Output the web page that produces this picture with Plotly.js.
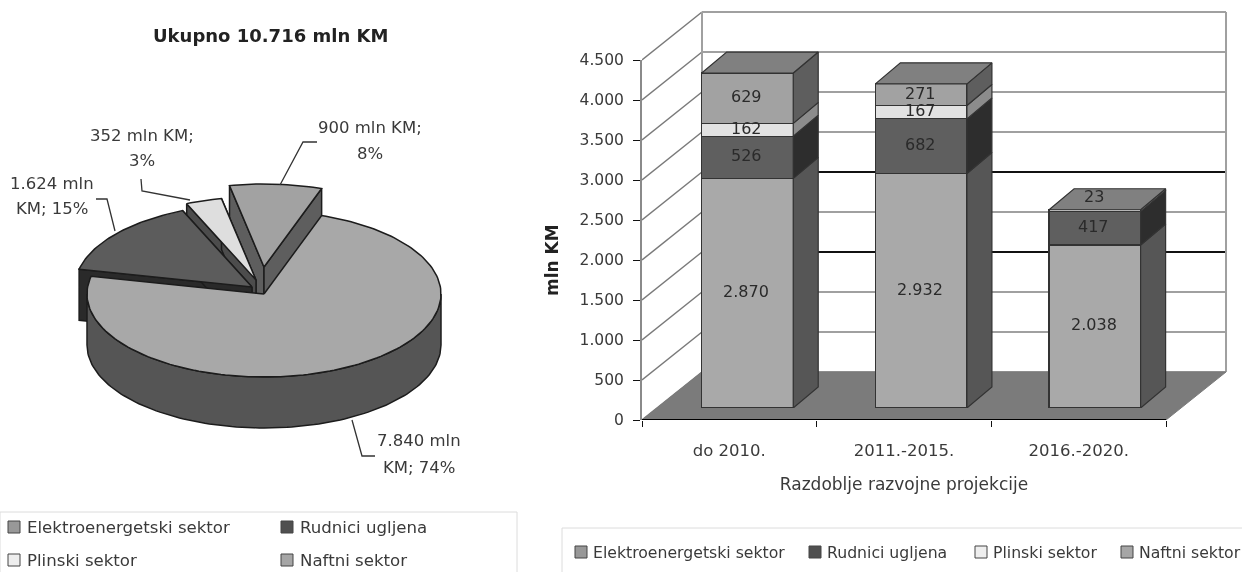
<!DOCTYPE html>
<html><head><meta charset="utf-8">
<script src="https://cdn.plot.ly/plotly-3.0.1.min.js"></script>
<style>html,body{margin:0;padding:0;background:#fff}#c{width:1242px;height:572px;filter:blur(0.7px)}</style>
</head><body><div id="c"></div>
<script>
// ---------- data ----------
const sectors = ["Elektroenergetski sektor","Rudnici ugljena","Plinski sektor","Naftni sektor"];
const periods = ["do 2010.","2011.-2015.","2016.-2020."];
const elektro = [2870,2932,2038];
const rudnici = [526,682,417];
const plin    = [162,167,23];
const naftni  = [629,271,0];
const pieTotals = [7840,1624,352,900];
const pieLabelLines = [["7.840 mln","KM; 74%"],["1.624 mln","KM; 15%"],["352 mln KM;","3%"],["900 mln KM;","8%"]];
const yTicks = [0,500,1000,1500,2000,2500,3000,3500,4000,4500];
const chartTitle = "Ukupno 10.716 mln KM";

// ---------- styles / geometry ----------
const W=1242,H=572;
const FONT='"DejaVu Sans", sans-serif', TXT='#3a3a3a';
const front=['#a9a9a9','#5f5f5f','#e2e2e2','#a2a2a2'];
const side =['#565656','#2d2d2d','#8c8c8c','#5e5e5e'];
const swatch=['#989898','#505050','#eeeeee','#a6a6a6'];
const stacks=[elektro,rudnici,plin,naftni];
const pxX=x=>x/W, pxY=y=>1-y/H;
const traces=[], shapes=[], annos=[];

// main category axis scale: px per unit
const XS=174.67, YS=0.08, XB=173.7;
const backDx=60/XS, backDy=48/YS;

// hidden frame axes (x2,y2) share the scale of the visible axes
const poly=(x,y,fill,line,ax,lw)=>traces.push({type:'scatter',mode:'lines',x,y,xaxis:ax[0],yaxis:ax[1],
  fill:fill?'toself':'none',fillcolor:fill||undefined,line:{color:line||'rgba(0,0,0,0)',width:lw===undefined?1:lw},
  hoverinfo:'skip',showlegend:false});
const F=['x2','y2'], B=['x3','y3'], P=['x4','y4'];

// dummy trace registers the categories on the visible axis
traces.push({type:'scatter',mode:'markers',x:periods,y:[0,0,0],marker:{opacity:0,size:1},hoverinfo:'skip',showlegend:false});

// back walls & grid
const xL=-0.5,xR=2.5;
yTicks.forEach(v=>{
  const dark=(v===1500||v===2500);
  poly([xL,xL+backDx],[v,v+backDy],null,'#7a7a7a',F,1.5);
  poly([xL+backDx,xR+backDx],[v+backDy,v+backDy],null,dark?'#111':'#a0a0a0',F,dark?1.8:2.2);
});
poly([xL+backDx,xL+backDx],[backDy,4500+backDy],null,'#a0a0a0',F,2);
poly([xR+backDx,xR+backDx],[backDy,4500+backDy],null,'#a0a0a0',F,2);
poly([xL,xR,xR+backDx,xL+backDx,xL],[0,0,backDy,backDy,0],'#7b7b7b','#7b7b7b',F,1);
poly([xL,xR],[0,0],null,'#000',F,2);

// bars
const barW=0.527, depX=25/XB, depY=21/YS;
sectors.forEach((s,k)=>{
  traces.push({type:'bar',name:s,x:periods.map((_,i)=>i),y:stacks[k],width:barW,xaxis:'x3',yaxis:'y3',
    marker:{color:front[k],line:{color:'#333',width:1.2}},hoverinfo:'skip',showlegend:false});
});
periods.forEach((_,i)=>{
  let base=0;
  const r=i+barW/2,l=i-barW/2;
  stacks.forEach((arr,k)=>{
    const v=arr[i];
    if(v>0){
      poly([r,r,r+depX,r+depX,r],[base,base+v,base+v+depY,base+depY,base],side[k],'#333',B,1.2);
      const c=base+v/2;
      const small=v*YS<8;
      annos.push({xref:'x3',yref:'y3',x:i,y:c,text:v.toLocaleString('de-DE'),showarrow:false,xshift:-1,
        yshift:small?14:1.5,font:{family:FONT,size:16,color:'#2a2a2a'}});
    }
    base+=v;
  });
  poly([l,r,r+depX,l+depX,l],[base,base,base+depY,base+depY,base],'#808080','#333',B,1.2);
});

// pie (unit circle projected onto the hidden x4/y4 axes)
const total=pieTotals.reduce((a,b)=>a+b,0);
const START=19, H3=51/83;
const offs=[[0,0],[-12/177,7/83],[-8/177,14/83],[0,27/83]];
const pt=(t,o)=>[Math.sin(t*Math.PI/180)+o[0],Math.cos(t*Math.PI/180)+o[1]];
let ang=START; const slices=pieTotals.map((v,k)=>{const a=ang,b=ang+v/total*360;ang=b;return{a,b,k};});
const arc=(a,b,o)=>{const n=Math.max(2,Math.ceil((b-a)/1.5)),r=[];for(let j=0;j<=n;j++)r.push(pt(a+(b-a)*j/n,o));return r;};
const drawPoly=(pts,fill)=>poly(pts.map(p=>p[0]).concat(pts[0][0]),pts.map(p=>p[1]).concat(pts[0][1]),fill,'#1c1c1c',P,1.5);
const sideCol=['#555555','#2a2a2a','#4c4c4c','#5e5e5e'], topCol=['#a8a8a8','#5c5c5c','#dedede','#a2a2a2'];
[3,2,1,0].forEach(k=>{
  const s=slices[k],o=offs[k],tip=[o[0],o[1]];
  const down=p=>[p[0],p[1]-H3];
  if(k!==0){
    const A=pt(s.a,o),Bp=pt(s.b,o);
    drawPoly([tip,A,down(A),down(tip)],sideCol[k]);
    drawPoly([tip,Bp,down(Bp),down(tip)],sideCol[k]);
  }else{
    const f=arc(90,270,o);
    drawPoly(f.concat(f.slice().reverse().map(down)),sideCol[k]);
  }
  const top=[tip].concat(arc(s.a,s.b,o));
  drawPoly(top,topCol[k]);
});

// leaders
const leaders=[[[352,420],[362,456],[375,456]],[[115,231],[107,199],[96,199]],[[190,200],[142,191],[141,179]],[[280,185],[303,142],[317,142]]];
leaders.forEach(L=>shapes.push({type:'path',xref:'paper',yref:'paper',
  path:L.map((p,i)=>(i?'L':'M')+pxX(p[0])+' '+pxY(p[1])).join(' '),line:{color:'#333',width:1.3}}));
const lblPos=[[419,440,467],[52,183,208],[142,135,160],[370,128,153]];
pieLabelLines.forEach((L,k)=>L.forEach((t,j)=>annos.push({xref:'paper',yref:'paper',x:pxX(lblPos[k][0]),y:pxY(lblPos[k][j+1]),
  text:t,showarrow:false,xanchor:'center',yanchor:'middle',font:{family:FONT,size:16.5,color:TXT}})));
annos.push({xref:'paper',yref:'paper',x:pxX(270),y:pxY(36),text:'<b>'+chartTitle+'</b>',showarrow:false,xanchor:'center',yanchor:'middle',
  font:{family:FONT,size:18,color:'#222'}});
annos.push({xref:'paper',yref:'paper',x:pxX(552),y:pxY(260),text:'<b>mln KM</b>',textangle:-90,showarrow:false,xanchor:'center',yanchor:'middle',
  font:{family:FONT,size:17,color:'#222'}});

// legends
const box=(x0,y0,x1,y1,fill,line)=>shapes.push({type:'rect',xref:'paper',yref:'paper',x0:pxX(x0),x1:pxX(x1),y0:pxY(y0),y1:pxY(y1),fillcolor:fill,line:{color:line,width:1}});
box(0,512,517,580,'rgba(0,0,0,0)','#dcdcdc');
box(562,528,1250,580,'rgba(0,0,0,0)','#dcdcdc');
const leg=(order,pos,size,gap)=>order.forEach((k,i)=>{
  const [x,y]=pos[i];
  box(x,y-6,x+12,y+6,swatch[k],'#444');
  annos.push({xref:'paper',yref:'paper',x:pxX(x+gap),y:pxY(y),text:sectors[k],showarrow:false,xanchor:'left',yanchor:'middle',
    font:{family:FONT,size:size,color:TXT}});
});
leg([0,1,2,3],[[8,527],[281,527],[8,560],[281,560]],16.6,17);
leg([0,1,2,3],[[575,552],[809,552],[975,552],[1121,552]],15.7,16);

const hidden=(domain,range,anchor)=>({domain,range,anchor,visible:false,fixedrange:true});
const layout={
  width:W,height:H,margin:{l:0,r:0,t:0,b:0},paper_bgcolor:'#fff',plot_bgcolor:'rgba(0,0,0,0)',
  showlegend:false,barmode:'stack',separators:',.',
  xaxis:{domain:[pxX(642),pxX(1166)],range:[-0.5,2.5],type:'category',categoryorder:'array',categoryarray:periods,
    tickson:'boundaries',ticks:'outside',ticklen:6,tickcolor:'#111',showgrid:false,zeroline:false,showline:false,
    tickfont:{family:FONT,size:16.5,color:TXT},anchor:'y',ticklabelstandoff:18,
    title:{text:'Razdoblje razvojne projekcije',font:{family:FONT,size:17,color:TXT},standoff:19}},
  yaxis:{domain:[pxY(420),pxY(60)],range:[0,4500],tickvals:yTicks,tickformat:',d',ticks:'outside',ticklen:7,tickcolor:'#111',
    showgrid:false,zeroline:false,showline:true,linecolor:'#8a8a8a',linewidth:2,anchor:'x',
    tickfont:{family:FONT,size:15.5,color:TXT},ticklabelstandoff:6},
  xaxis2:hidden([pxX(642),1],[-0.5,-0.5+600/XS],'y2'),
  yaxis2:hidden([pxY(420),1],[0,420/YS],'x2'),
  xaxis3:hidden([pxX(660.6),1],[-0.5,-0.5+(W-660.6)/XB],'y3'),
  yaxis3:hidden([pxY(408),1],[0,408/YS],'x3'),
  xaxis4:hidden([0,pxX(540)],[-264/177,(540-264)/177],'y4'),
  yaxis4:hidden([0,1],[(294-572)/83,294/83],'x4'),
  shapes,annotations:annos
};
Plotly.newPlot('c',traces,layout,{displayModeBar:false,staticPlot:true});
</script></body></html>
